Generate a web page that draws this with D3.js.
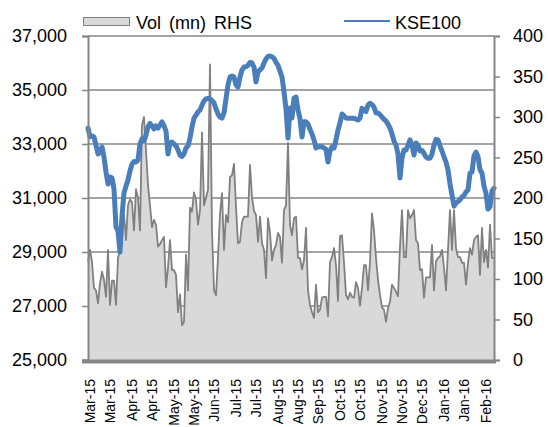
<!DOCTYPE html>
<html>
<head>
<meta charset="utf-8">
<script src="https://cdn.jsdelivr.net/npm/d3@7"></script>
<style>
  html, body { margin: 0; padding: 0; background: #fff; }
  text { font-family: Arial, "Liberation Sans", sans-serif; fill: #000; }
</style>
</head>
<body>
<div id="chart"></div>
<script>
// KSE100 index, one value per trading day
var kse = [
    33590,33270,33300,33260,32960,32630,32700,32890,32520,31960,
    31520,31780,31740,31330,29930,29780,29000,30330,31190,31440,
    31670,32000,32260,32350,32330,32410,33000,33190,33110,33330,
    33630,33760,33670,33560,33670,33590,33700,33820,33670,33480,
    32630,33040,33070,33000,32930,32780,32590,32540,32630,32850,
    32930,33220,33630,33960,34070,34190,34260,34440,34590,34670,
    34690,34670,34610,34520,34300,34110,34000,33960,34150,34670,
    35190,35480,35520,35480,35190,35110,35480,35740,35850,35860,
    35910,36020,36000,35850,35300,35670,35740,35820,36000,36150,
    36240,36260,36230,36170,36020,35910,35700,35480,34930,34300,
    33220,34330,33960,34700,34740,34260,33930,33260,33820,33820,
    33740,33540,33370,33150,32850,32900,32900,32900,32850,32800,
    32330,32740,32890,32850,33150,33520,33780,34110,34040,33960,
    33950,33950,33950,33950,33920,33890,33950,34320,34260,34200,
    34440,34510,34460,34370,34150,34150,34090,34000,33910,33850,
    33740,33590,33370,33110,32960,32630,31740,32480,32780,32780,
    32960,33150,32960,32590,33040,32960,32740,32760,32650,32520,
    32470,32470,32630,32960,33170,33150,32930,32740,32520,32330,
    32040,31520,31110,30700,30820,30870,30930,31040,31090,31220,
    31300,31920,31960,32560,32700,32530,32040,31920,31440,31170,
    30590,30680,31260,31360
];

// traded volume (mn shares), right hand scale
var vol = [
    121,136,121,89,86,70,95,109,99,78,
    136,68,98,98,68,126,136,170,180,148,
    191,198,195,160,211,200,160,290,300,259,
    216,191,164,173,167,140,143,148,152,90,
    114,148,111,111,105,59,81,43,47,130,
    86,188,183,207,198,167,185,281,191,200,
    210,365,160,86,80,127,180,206,136,179,
    170,226,228,242,189,144,146,170,177,177,
    177,241,201,184,179,146,177,144,136,101,
    175,157,123,136,142,157,152,120,185,191,
    268,167,154,175,177,126,126,112,123,163,
    86,68,59,52,93,59,62,77,78,78,
    54,121,127,138,117,73,153,154,120,80,
    75,83,78,77,96,89,67,89,117,117,
    86,121,181,160,126,99,80,65,62,47,
    64,72,93,89,84,79,140,185,127,127,
    185,175,179,185,148,144,111,112,77,102,
    102,102,142,86,122,126,128,136,114,86,
    136,185,136,185,138,127,127,120,120,93,
    120,138,130,148,152,154,105,163,121,136,
    114,167,126,126
];

// category labels and the trading day they sit on
var tickLabels = ["Mar-15","Mar-15","Apr-15","Apr-15","May-15","May-15","Jun-15",
    "Jul-15","Jul-15","Aug-15","Aug-15","Sep-15","Oct-15","Oct-15","Nov-15",
    "Nov-15","Dec-15","Jan-16","Jan-16","Feb-16"];
var tickDays = [1,11,22,32,43,53,63,74,84,95,105,115,126,136,147,157,167,178,188,199];

var leftTicks = [25000,27000,29000,31000,33000,35000,37000];
var rightTicks = [0,50,100,150,200,250,300,350,400];

var W = 548, H = 427;
var L = 88, R = 494, T = 36, B = 360;
var grey = "#868686";

var svg = d3.select("#chart").append("svg")
    .attr("width", W)
    .attr("height", H);

var x = d3.scaleLinear().domain([0, kse.length - 1]).range([L, R]);
var yL = d3.scaleLinear().domain([25000, 37000]).range([B, T]);
var yR = d3.scaleLinear().domain([0, 400]).range([B, T]);

// gridlines
svg.append("g")
    .selectAll("line")
    .data(leftTicks)
    .join("line")
        .attr("x1", L).attr("x2", R)
        .attr("y1", d => yL(d)).attr("y2", d => yL(d))
        .attr("stroke", grey)
        .attr("stroke-width", 1.5);

// volume area
var area = d3.area()
    .x((d, i) => x(i))
    .y0(B)
    .y1(d => yR(d));
svg.append("path")
    .datum(vol)
    .attr("d", area)
    .attr("fill", "#d9d9d9");
svg.append("path")
    .datum(vol)
    .attr("d", d3.line().x((d, i) => x(i)).y(d => yR(d)))
    .attr("fill", "none")
    .attr("stroke", "#808080")
    .attr("stroke-width", 1.8)
    .attr("stroke-linejoin", "round");

// kse line
svg.append("path")
    .datum(kse)
    .attr("d", d3.line().x((d, i) => x(i)).y(d => yL(d)))
    .attr("fill", "none")
    .attr("stroke", "#4a7ebb")
    .attr("stroke-width", 5)
    .attr("stroke-linejoin", "round")
    .attr("stroke-linecap", "round");

// axes
var axL = svg.append("g")
    .attr("transform", "translate(" + L + ",0)")
    .call(d3.axisLeft(yL).tickValues(leftTicks).tickFormat(d3.format(",")).tickSize(6).tickPadding(15));
var axR = svg.append("g")
    .attr("transform", "translate(" + R + ",0)")
    .call(d3.axisRight(yR).tickValues(rightTicks).tickSize(6).tickPadding(13));
[axL, axR].forEach(function(ax) {
    ax.select(".domain").attr("stroke", grey).attr("stroke-width", 2);
    ax.selectAll(".tick line").attr("stroke", grey).attr("stroke-width", 1.5);
    ax.selectAll("text")
        .attr("font-size", 18)
        .attr("font-family", "Arial, 'Liberation Sans', sans-serif")
        .attr("fill", "#000");
});

// bottom axis
svg.append("line")
    .attr("x1", L - 6).attr("x2", R + 2)
    .attr("y1", B + 1.5).attr("y2", B + 1.5)
    .attr("stroke", grey)
    .attr("stroke-width", 4);

svg.append("g")
    .selectAll("text")
    .data(tickDays)
    .join("text")
        .attr("transform", d => "translate(" + (x(d) + 5) + ",379) rotate(-90)")
        .attr("text-anchor", "end")
        .attr("font-size", 14)
        .text((d, i) => tickLabels[i]);

// legend
var lg = svg.append("g");
lg.append("rect")
    .attr("x", 83.5).attr("y", 17.5)
    .attr("width", 46).attr("height", 8)
    .attr("fill", "#d9d9d9")
    .attr("stroke", "#808080")
    .attr("stroke-width", 1);
lg.append("text")
    .attr("x", 136).attr("y", 29)
    .attr("font-size", 18)
    .attr("word-spacing", 3)
    .text("Vol (mn) RHS");
lg.append("line")
    .attr("x1", 344).attr("x2", 390)
    .attr("y1", 21).attr("y2", 21)
    .attr("stroke", "#4a7ebb")
    .attr("stroke-width", 2);
lg.append("text")
    .attr("x", 395).attr("y", 29)
    .attr("font-size", 18)
    .text("KSE100");
</script>
</body>
</html>
